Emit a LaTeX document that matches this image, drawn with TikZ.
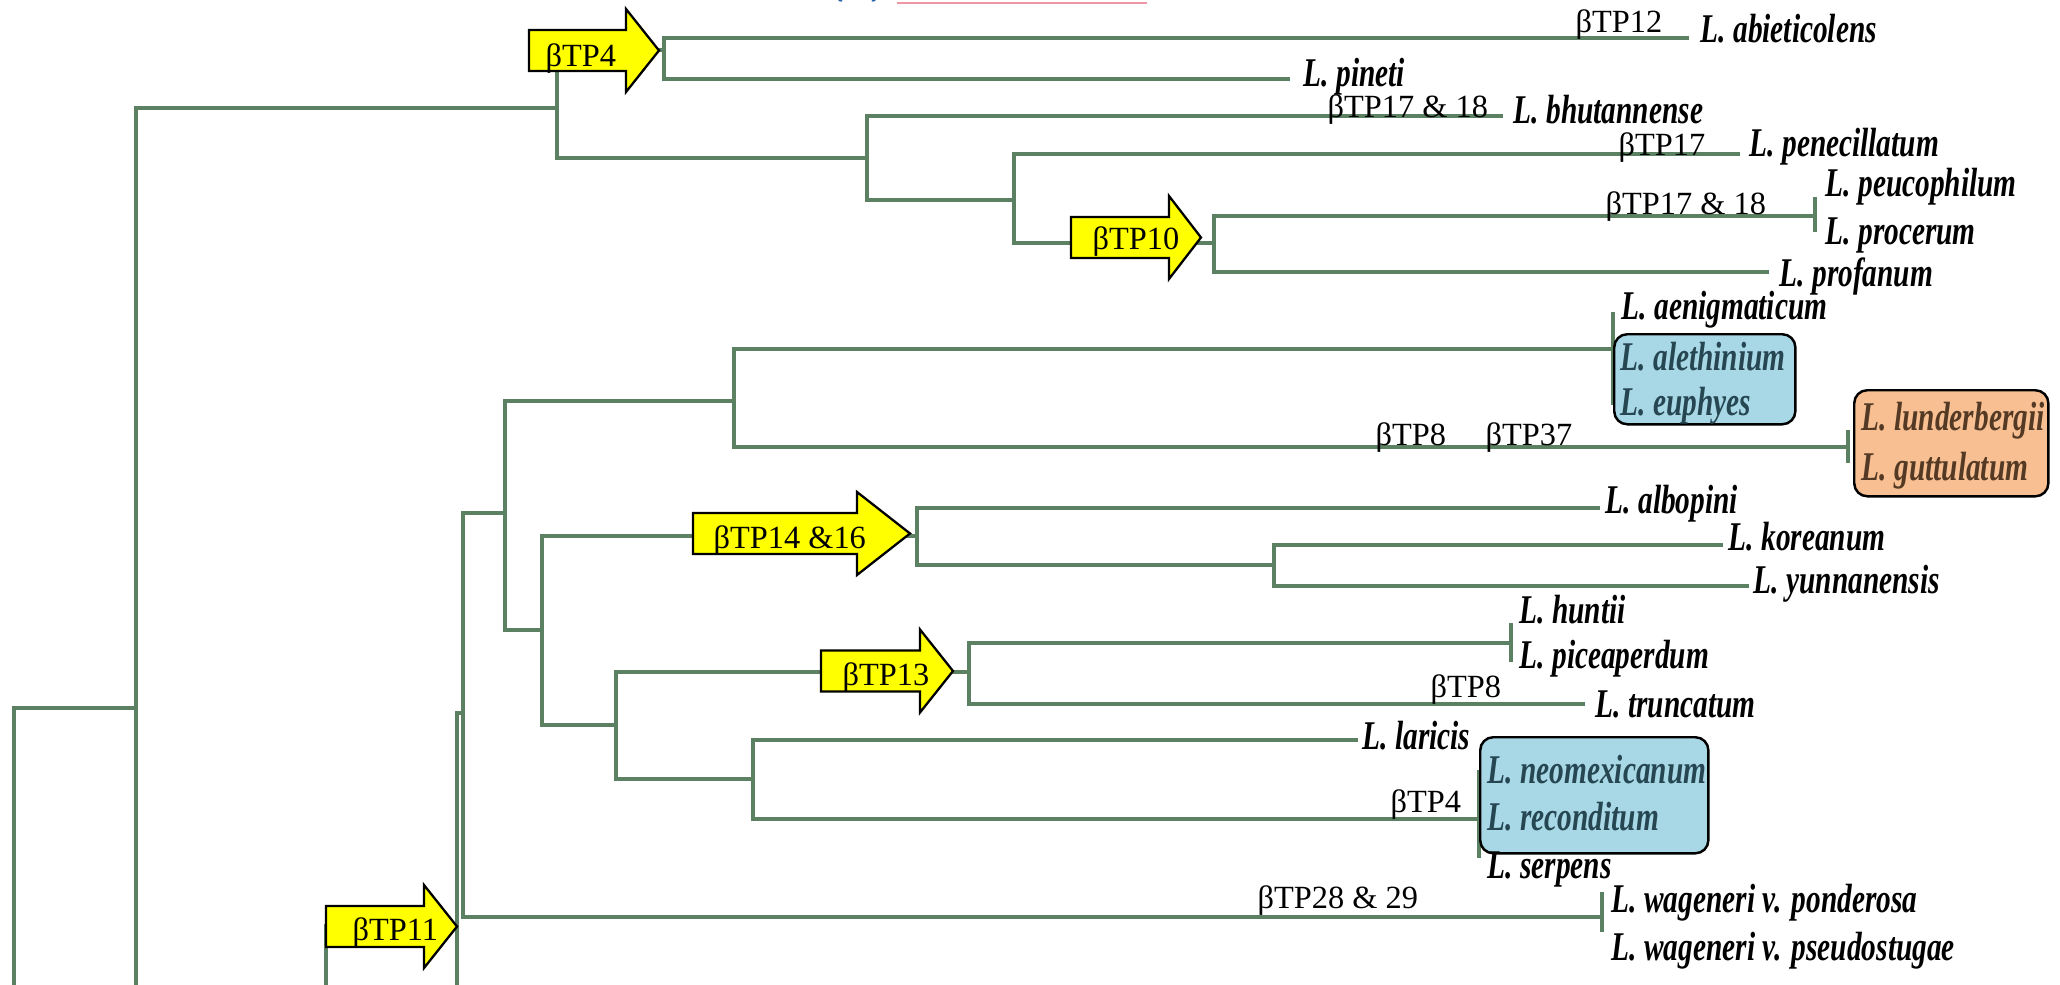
\documentclass[tikz,border=0pt]{standalone}
\usepackage{fontspec}
\setmainfont{Liberation Serif}
\newfontfamily\spfam[FakeStretch=0.72]{Liberation Serif}
\usetikzlibrary{shapes,arrows,positioning}

\definecolor{treegreen}{RGB}{92,128,98}
\definecolor{tpyellow}{RGB}{255,255,0}
\definecolor{boxblue}{RGB}{168,216,230}
\definecolor{boxorange}{RGB}{248,192,146}
\definecolor{bluetext}{RGB}{38,70,82}
\definecolor{browntext}{RGB}{84,58,36}
\definecolor{rulepink}{RGB}{238,150,165}
\definecolor{headblue}{RGB}{40,100,170}

\newcommand{\spfont}{\spfam\bfseries\itshape\fontsize{11.6}{13}\selectfont}
\newcommand{\tpfont}{\fontsize{9.2}{11}\selectfont}

% yellow block arrow: tip name, left x, mid y, body length, head length
\newcommand{\tparrow}[5]{%
  \draw[tpshape] (#2,#3-20.5) -- (#2+#4,#3-20.5) -- (#2+#4,#3-41.5) -- (#2+#4+#5,#3)
    -- (#2+#4,#3+41.5) -- (#2+#4,#3+20.5) -- (#2,#3+20.5) -- cycle;
  \coordinate (#1) at (#2+#4+#5,#3);}

\begin{document}
\begin{tikzpicture}[x=0.01cm, y=-0.01cm,
  branch/.style={draw=treegreen, line width=1.05pt},
  tpshape/.style={draw=black, fill=tpyellow, line width=0.65pt},
  sp/.style={anchor=base west, inner sep=0pt, font=\spfont},
  tp/.style={anchor=base west, inner sep=0pt, font=\tpfont},
  grpbox/.style={draw=black, line width=0.7pt, rounded corners=0.13cm, anchor=north west, inner sep=0pt}]

\useasboundingbox (0,0) rectangle (2060,985);
\clip (0,0) rectangle (2060,985);

% panel heading, mostly off the page
\draw[rulepink, line width=0.5pt] (897,3) -- (1147,3);
\node[anchor=base west, inner sep=0pt, text=headblue, font=\sffamily\bfseries\large] (panel) at (827,-8) {(b)};

% internal nodes
\coordinate (r0) at (14,1000);
\coordinate (n136) at (136,708);
\coordinate (cut136) at (136,1000);
\coordinate (n557) at (557,108);
\coordinate (n664) at (664,50);
\coordinate (n867) at (867,158);
\coordinate (n1014) at (1014,200);
\coordinate (n1214) at (1214,243);
\coordinate (n326) at (326,1000);
\coordinate (n457) at (457,926);
\coordinate (cut457) at (457,1000);
\coordinate (n463) at (463,713);
\coordinate (n505) at (505,513);
\coordinate (n734) at (734,401);
\coordinate (n542) at (542,630);
\coordinate (n917) at (917,536);
\coordinate (n1274) at (1274,565);
\coordinate (n616) at (616,725);
\coordinate (n969) at (969,672);
\coordinate (n753) at (753,779);

% branch tips
\coordinate (abiet) at (1689,38);
\coordinate (pinet) at (1290,79);
\coordinate (bhut) at (1503,116);
\coordinate (pene) at (1740,154);
\coordinate (peuc) at (1815,216);
\coordinate (prof) at (1769,272);
\coordinate (aenig) at (1613,349);
\coordinate (lund) at (1848,447);
\coordinate (albo) at (1600,508);
\coordinate (korea) at (1723,545);
\coordinate (yunn) at (1749,586);
\coordinate (hunt) at (1511,643);
\coordinate (trunc) at (1585,704);
\coordinate (lari) at (1358,740);
\coordinate (neom) at (1479,819);
\coordinate (wag) at (1602,917);

% upper clade
\draw[branch] (r0) |- (n136);
\draw[branch] (n136) |- (n557);
\draw[branch] (n136) -- (cut136);
\draw[branch] (n557) |- (n664);
\draw[branch] (n557) |- (n867);
\draw[branch] (n664) |- (abiet);
\draw[branch] (n664) |- (pinet);
\draw[branch] (n867) |- (bhut);
\draw[branch] (n867) |- (n1014);
\draw[branch] (n1014) |- (pene);
\draw[branch] (n1014) |- (n1214);
\draw[branch] (n1214) |- (peuc);
\draw[branch] (n1214) |- (prof);

% lower clade
\draw[branch] (n326) |- (n457);
\draw[branch] (n457) |- (n463);
\draw[branch] (n457) -- (cut457);
\draw[branch] (n463) |- (n505);
\draw[branch] (n463) |- (wag);
\draw[branch] (n505) |- (n734);
\draw[branch] (n505) |- (n542);
\draw[branch] (n734) |- (aenig);
\draw[branch] (n734) |- (lund);
\draw[branch] (n542) |- (n917);
\draw[branch] (n542) |- (n616);
\draw[branch] (n917) |- (albo);
\draw[branch] (n917) |- (n1274);
\draw[branch] (n1274) |- (korea);
\draw[branch] (n1274) |- (yunn);
\draw[branch] (n616) |- (n969);
\draw[branch] (n616) |- (n753);
\draw[branch] (n969) |- (hunt);
\draw[branch] (n969) |- (trunc);
\draw[branch] (n753) |- (lari);
\draw[branch] (n753) |- (neom);

% unresolved tips
\draw[branch] ([yshift=0.19cm]peuc) -- ([yshift=-0.16cm]peuc);
\draw[branch] ([yshift=0.37cm]aenig) -- ([yshift=-0.56cm]aenig);
\draw[branch] ([yshift=0.17cm]lund) -- ([yshift=-0.16cm]lund);
\draw[branch] ([yshift=0.20cm]hunt) -- ([yshift=-0.19cm]hunt);
\draw[branch] ([yshift=0.49cm]neom) -- ([yshift=-0.39cm]neom);
\draw[branch] ([yshift=0.25cm]wag) -- ([yshift=-0.15cm]wag);

% shaded groups
\node[grpbox, fill=boxblue, minimum width=1.81cm, minimum height=0.90cm] (grpA) at (1613,333) {};
\node[grpbox, fill=boxorange, minimum width=1.94cm, minimum height=1.06cm] (grpB) at (1853,389) {};
\node[grpbox, fill=boxblue, minimum width=2.28cm, minimum height=1.16cm] (grpC) at (1479,736) {};

% species
\node[sp] (abiet-l) at (1700,43) {L. abieticolens};
\node[sp] (pinet-l) at (1303,87) {L. pineti};
\node[sp] (bhut-l) at (1513,124) {L. bhutannense};
\node[sp] (pene-l) at (1749,157) {L. penecillatum};
\node[sp] (peuc-l) at (1825,197) {L. peucophilum};
\node[sp] (proc-l) at (1825,245) {L. procerum};
\node[sp] (prof-l) at (1779,287) {L. profanum};
\node[sp] (aenig-l) at (1621,320) {L. aenigmaticum};
\node[sp, text=bluetext] (aleth-l) at (1620,370) {L. alethinium};
\node[sp, text=bluetext] (euph-l) at (1620,415) {L. euphyes};
\node[sp, text=browntext] (lund-l) at (1861,430) {L. lunderbergii};
\node[sp, text=browntext] (gutt-l) at (1861,480) {L. guttulatum};
\node[sp] (albo-l) at (1605,513) {L. albopini};
\node[sp] (korea-l) at (1728,550) {L. koreanum};
\node[sp] (yunn-l) at (1753,593) {L. yunnanensis};
\node[sp] (hunt-l) at (1519,623) {L. huntii};
\node[sp] (picea-l) at (1519,668) {L. piceaperdum};
\node[sp] (trunc-l) at (1595,717) {L. truncatum};
\node[sp] (lari-l) at (1362,749) {L. laricis};
\node[sp, text=bluetext] (neom-l) at (1487,783) {L. neomexicanum};
\node[sp, text=bluetext] (recon-l) at (1487,830) {L. reconditum};
\node[sp] (serp-l) at (1487,878) {L. serpens};
\node[sp] (pond-l) at (1611,912) {L. wageneri v. ponderosa};
\node[sp] (pseud-l) at (1611,960) {L. wageneri v. pseudostugae};

% gene labels on branches
\node[tp] (tp12) at (1575,33) {βTP12};
\node[tp] (tp1718a) at (1327,118) {βTP17 \& 18};
\node[tp] (tp17) at (1618,156) {βTP17};
\node[tp] (tp1718b) at (1605,215) {βTP17 \& 18};
\node[tp] (tp8a) at (1375,445) {βTP8};
\node[tp] (tp37) at (1485,445) {βTP37};
\node[tp] (tp8b) at (1430,697) {βTP8};
\node[tp] (tp4b) at (1390,812) {βTP4};
\node[tp] (tp2829) at (1257,908) {βTP28 \& 29};

% gene arrows on nodes
\tparrow{a4}{529}{50.5}{97}{33}
\tparrow{a10}{1071}{237.5}{98}{32}
\tparrow{a1416}{693}{533.5}{164}{53}
\tparrow{a13}{821}{671}{99}{33}
\tparrow{a11}{326}{926.5}{98}{33}
\node[tp] (a4-t) at (545,67) {βTP4};
\node[tp] (a10-t) at (1092,250) {βTP10};
\node[tp] (a1416-t) at (713,548) {βTP14 \&16};
\node[tp] (a13-t) at (842,685) {βTP13};
\node[tp] (a11-t) at (352,940) {βTP11};
\end{tikzpicture}
\end{document}
